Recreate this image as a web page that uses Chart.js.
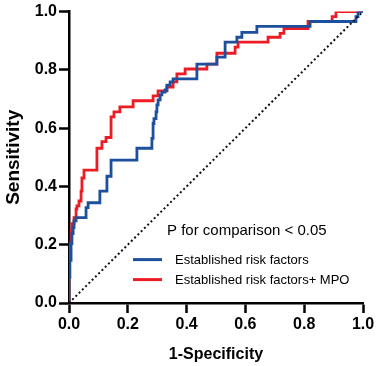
<!DOCTYPE html>
<html>
<head>
<meta charset="utf-8">
<script src="https://cdn.jsdelivr.net/npm/chart.js@4/dist/chart.umd.min.js"></script>
<style>
    html, body { margin: 0; padding: 0; background: #fff; }
    #wrap { width: 378px; height: 366px; }
</style>
</head>
<body>
<div id="wrap"><canvas id="roc"></canvas></div>
<script>
// ROC curves (corner points of each staircase)
const baseFpr = [0, 0, 0.003, 0.007, 0.010, 0.014, 0.017, 0.024, 0.027, 0.058, 0.058, 0.065, 0.065, 0.105, 0.105,
    0.129, 0.129, 0.143, 0.143, 0.231, 0.231, 0.282, 0.282, 0.286, 0.289, 0.296, 0.299, 0.303, 0.310, 0.316,
    0.327, 0.333, 0.344, 0.354, 0.361, 0.435, 0.435, 0.439, 0.503, 0.503, 0.531, 0.531, 0.541, 0.571, 0.571,
    0.588, 0.588, 0.639, 0.639, 0.820, 0.820, 0.976, 0.983, 0.990, 1];
const baseTpr = [0, 0.034, 0.088, 0.146, 0.204, 0.238, 0.259, 0.282, 0.293, 0.293, 0.323, 0.327, 0.344, 0.344, 0.384,
    0.384, 0.435, 0.435, 0.490, 0.490, 0.531, 0.531, 0.554, 0.565, 0.616, 0.633, 0.656, 0.680, 0.697, 0.714,
    0.724, 0.731, 0.748, 0.759, 0.769, 0.769, 0.793, 0.820, 0.820, 0.844, 0.844, 0.878, 0.895, 0.895, 0.912,
    0.912, 0.929, 0.929, 0.949, 0.949, 0.966, 0.966, 0.983, 1, 1];

const mpoFpr = [0, 0, 0.003, 0.007, 0.010, 0.017, 0.024, 0.027, 0.034, 0.041, 0.044, 0.051, 0.058, 0.095, 0.095,
    0.102, 0.112, 0.116, 0.126, 0.126, 0.143, 0.143, 0.153, 0.153, 0.173, 0.173, 0.218, 0.218, 0.286, 0.286,
    0.303, 0.303, 0.333, 0.333, 0.354, 0.354, 0.367, 0.367, 0.395, 0.395, 0.469, 0.469, 0.503, 0.503, 0.565,
    0.565, 0.575, 0.575, 0.677, 0.677, 0.718, 0.718, 0.731, 0.731, 0.813, 0.813, 0.895, 0.895, 0.908, 0.908, 1];
const mpoTpr = [0, 0.122, 0.170, 0.204, 0.248, 0.272, 0.293, 0.323, 0.333, 0.350, 0.384, 0.429, 0.456, 0.456, 0.497,
    0.531, 0.531, 0.554, 0.554, 0.568, 0.568, 0.639, 0.639, 0.656, 0.656, 0.673, 0.673, 0.694, 0.694, 0.711,
    0.711, 0.728, 0.728, 0.741, 0.741, 0.759, 0.759, 0.786, 0.786, 0.803, 0.803, 0.820, 0.820, 0.857, 0.857,
    0.878, 0.878, 0.895, 0.895, 0.912, 0.912, 0.925, 0.925, 0.942, 0.942, 0.966, 0.966, 0.983, 0.983, 1, 1];

const chanceLine = [0, 1];
const tickValues = [0, 0.2, 0.4, 0.6, 0.8, 1.0];

const SERIES_LABELS = ['Established risk factors', 'Established risk factors+ MPO'];
const P_TEXT = 'P for comparison < 0.05';

const COLORS = {
    base: '#1c4f9c',
    mpo: '#ec1c24',
    axis: '#000000',
    dots: '#111111',
};

const FONT = "'Liberation Sans', Arial, Helvetica, sans-serif";

function toPoints(xs, ys) {
    return xs.map((x, i) => ({ x, y: ys[i] }));
}

// p-value note + legend sit inside the plot, under the diagonal
const insideLegend = {
    id: 'insideLegend',
    afterDatasetsDraw(chart) {
        const { ctx, chartArea } = chart;
        const left = chartArea.left;
        const top = chartArea.top;
        ctx.save();
        ctx.fillStyle = '#000';
        ctx.textBaseline = 'middle';
        ctx.font = `15px ${FONT}`;
        ctx.fillText(P_TEXT, left + 98, top + 219);

        ctx.font = `13px ${FONT}`;
        const rows = [
            { y: top + 248, color: COLORS.base, label: SERIES_LABELS[0] },
            { y: top + 268, color: COLORS.mpo, label: SERIES_LABELS[1] },
        ];
        for (const r of rows) {
            ctx.strokeStyle = r.color;
            ctx.lineWidth = 3;
            ctx.beginPath();
            ctx.moveTo(left + 64, r.y);
            ctx.lineTo(left + 93, r.y);
            ctx.stroke();
            ctx.fillText(r.label, left + 106, r.y + 1);
        }
        ctx.restore();
    }
};

const axisCommon = {
    type: 'linear',
    min: 0,
    max: 1,
    grid: {
        display: true,
        drawOnChartArea: false,
        drawTicks: true,
        tickLength: 10,
        tickWidth: 2.5,
        tickColor: COLORS.axis,
    },
    border: { display: true, color: COLORS.axis, width: 2.5 },
    afterBuildTicks(scale) {
        scale.ticks = tickValues.map(v => ({ value: v }));
    },
    ticks: {
        color: '#000',
        font: { size: 16, weight: 'bold', family: FONT },
        padding: 2,
        maxRotation: 0,
        callback: v => Number(v).toFixed(1),
    },
};

new Chart(document.getElementById('roc'), {
    type: 'scatter',
    data: {
        datasets: [
            {
                label: 'chance',
                data: toPoints(chanceLine, chanceLine),
                showLine: true,
                borderColor: COLORS.dots,
                borderWidth: 2,
                borderDash: [2, 2.6],
                pointRadius: 0,
            },
            {
                label: SERIES_LABELS[0],
                data: toPoints(baseFpr, baseTpr),
                showLine: true,
                stepped: 'after',
                borderColor: COLORS.base,
                borderWidth: 2.8,
                pointRadius: 0,
            },
            {
                label: SERIES_LABELS[1],
                data: toPoints(mpoFpr, mpoTpr),
                showLine: true,
                stepped: 'after',
                borderColor: COLORS.mpo,
                borderWidth: 2.8,
                pointRadius: 0,
            },
        ]
    },
    options: {
        responsive: true,
        maintainAspectRatio: false,
        animation: false,
        layout: { padding: { top: 9, right: 15, bottom: 0, left: 0 } },
        plugins: {
            legend: { display: false },
            tooltip: { enabled: false },
        },
        scales: {
            x: {
                ...axisCommon,
                position: 'bottom',
                afterFit(scale) { scale.height = 63; },
                title: {
                    display: true,
                    text: '1-Specificity',
                    color: '#000',
                    font: { size: 16, weight: 'bold', family: FONT },
                    padding: { top: 0, bottom: 2 },
                },
            },
            y: {
                ...axisCommon,
                position: 'left',
                afterFit(scale) { scale.width = 69; },
                title: {
                    display: true,
                    text: 'Sensitivity',
                    color: '#000',
                    font: { size: 19, weight: 'bold', family: FONT },
                    padding: { top: 2, bottom: 0 },
                },
            },
        }
    },
    plugins: [insideLegend],
});
</script>
</body>
</html>
